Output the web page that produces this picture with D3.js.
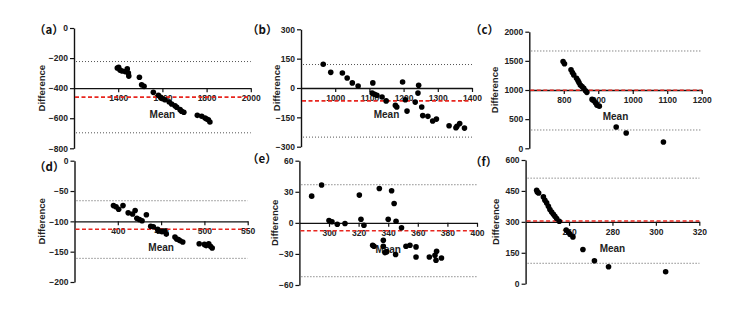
<!DOCTYPE html>
<html>
<head>
<meta charset="utf-8">
<script src="https://cdn.jsdelivr.net/npm/d3@7"></script>
<style>
  body { margin: 0; background: #fff; }
  svg text { font-family: "Liberation Sans", Arial, sans-serif; font-weight: bold; }
</style>
</head>
<body>
<div id="chart"></div>
<script>
// Bland-Altman panels (a)-(f): x = Mean, y = Difference
var meanA = [1396, 1402, 1408, 1418, 1432, 1441, 1446, 1448, 1496, 1506, 1517, 1559, 1582, 1592, 1601, 1612, 1631, 1642, 1657, 1665, 1680, 1687, 1697, 1758, 1778, 1793, 1800, 1808, 1815];
var diffA = [-266, -262, -280, -286, -290, -272, -300, -320, -328, -377, -388, -428, -448, -461, -470, -477, -492, -505, -517, -527, -543, -554, -560, -581, -587, -599, -605, -610, -625];

var meanB = [965, 987, 1021, 1035, 1050, 1067, 1110, 1108, 1115, 1122, 1137, 1149, 1176, 1180, 1197, 1205, 1210, 1234, 1244, 1242, 1253, 1256, 1271, 1285, 1296, 1333, 1353, 1356, 1364, 1378];
var diffB = [121, 80, 77, 51, 26, 10, 26, -26, -32, -37, -46, -66, -89, -97, 31, -60, -118, -72, 14, -26, -97, -141, -145, -169, -159, -193, -203, -196, -182, -205];

var meanC = [798, 802, 821, 825, 829, 837, 841, 844, 848, 853, 858, 863, 867, 882, 887, 892, 896, 903, 952, 981, 1089];
var diffC = [1490, 1450, 1346, 1300, 1259, 1202, 1161, 1127, 1086, 1058, 1029, 988, 960, 839, 816, 781, 741, 723, 366, 262, 107];

var meanD = [395, 398, 401, 406, 412, 417, 420, 422, 425, 428, 433, 438, 441, 446, 447, 451, 454, 456, 466, 468, 470, 472, 475, 494, 500, 502, 505, 507, 509];
var diffD = [-74, -76, -80, -74, -86, -88, -82, -95, -97, -99, -89, -108, -109, -113, -116, -117, -116, -121, -126, -129, -130, -132, -134, -137, -138, -140, -137, -141, -144];

var meanE = [288.3, 295, 300, 302, 305.6, 310.8, 320.5, 321.6, 323.6, 329.5, 330.4, 334, 336.7, 336.7, 337.8, 339, 340, 342.3, 344, 345.3, 345, 349, 352, 354.7, 358.8, 358.8, 367.8, 371.6, 372.7, 372.3, 376];
var diffE = [25.8, 36.5, 2.3, 1, -1.3, -0.6, 26.8, 3.5, -2.3, -21.6, -22.6, 33.2, -16.8, -22.6, -28.7, -28, 3.5, 31, 18.7, 1.6, -30.6, -4.8, -22.6, -21.6, -23.2, -32.9, -32.9, -31.3, -27.4, -36.1, -33.9];

var meanF = [245.1, 245.4, 246, 248.2, 248.9, 249.7, 250.5, 251.2, 252, 252.8, 253.5, 254.3, 255.5, 258.7, 259.8, 260.5, 261.8, 266.4, 271.7, 278.2, 304.5];
var diffF = [453, 445, 440, 421, 405, 392, 376, 360, 348, 337, 327, 316, 303, 260, 248, 239, 227, 166, 111, 82, 58];

// bias (red) and limits of agreement (dotted)
var bias = [-460, -66, 995, -113, -7.6, 304];
var upperLoA = [-223, 120, 1669, -66, 36.8, 512];
var lowerLoA = [-697, -251, 314, -161, -52, 99];

var labels = ["（a）", "（b）", "（c）", "（d）", "（e）", "（f）"];
var xTicks = [[1200, 1400, 1600, 1800, 2000], [900, 1000, 1100, 1200, 1300, 1400], [700, 800, 900, 1000, 1100, 1200],
              [350, 400, 450, 500, 550], [280, 300, 320, 340, 360, 380, 400], [240, 260, 280, 300, 320]];
var yTicks = [[-800, -600, -400, -200, 0], [-300, -150, 0, 150, 300], [0, 500, 1000, 1500, 2000],
              [-200, -150, -100, -50, 0], [-60, -30, 0, 30, 60], [0, 150, 300, 450, 600]];
var xCross = [-400, 0, 1000, -100, 0, 300];

var means = [meanA, meanB, meanC, meanD, meanE, meanF];
var diffs = [diffA, diffB, diffC, diffD, diffE, diffF];

// pixel boxes of each plot: [x left, x right, y bottom, y top]
var boxes = [[74, 250.8, 148.3, 28], [301, 472, 146.7, 29.3], [529.3, 701.7, 148.3, 31.7],
             [74.5, 247.7, 282, 160.7], [299.4, 477, 285, 160.7], [525.6, 699.3, 283.7, 160]];
var labelPos = [[34, 34], [247, 34], [470, 34], [34, 171], [247, 163], [470, 166]];
var titleX = [41.5, 276.5, 494.5, 41.5, 274, 495];

var w = 742, h = 310;
var fmt = d3.format("d");
var svg = d3.select("#chart").append("svg").attr("width", w).attr("height", h);

for (var i = 0; i < 6; i++) {
    var b = boxes[i];
    var xt = xTicks[i], yt = yTicks[i];
    var xScale = d3.scaleLinear().domain([xt[0], xt[xt.length - 1]]).range([b[0], b[1]]);
    var yScale = d3.scaleLinear().domain([yt[0], yt[yt.length - 1]]).range([b[2], b[3]]);
    var g = svg.append("g");

    // limits of agreement
    [upperLoA[i], lowerLoA[i]].forEach(function(v) {
        g.append("line")
            .attr("x1", b[0] + 2).attr("x2", b[1])
            .attr("y1", yScale(v)).attr("y2", yScale(v))
            .attr("stroke", "#555").attr("stroke-width", 1)
            .attr("stroke-dasharray", "1,2");
    });

    var yAxis = g.append("g")
        .attr("transform", "translate(" + b[0] + ",0)")
        .call(d3.axisLeft(yScale).tickValues(yt).tickFormat(fmt).tickSize(4).tickSizeOuter(0).tickPadding(2));
    var xAxis = g.append("g")
        .attr("transform", "translate(0," + yScale(xCross[i]) + ")")
        .call(d3.axisBottom(xScale).tickValues(xt.slice(1)).tickFormat(fmt).tickSize(4).tickSizeOuter(0).tickPadding(3));

    [yAxis, xAxis].forEach(function(ax) {
        ax.select(".domain").attr("stroke", "#111").attr("stroke-width", 1.4);
        ax.selectAll(".tick line").attr("stroke", "#111").attr("stroke-width", 1.2);
        ax.selectAll(".tick text").attr("fill", "#222").style("font-size", "8.5px");
    });

    // bias line
    g.append("line")
        .attr("x1", b[0] + 1).attr("x2", b[1])
        .attr("y1", yScale(bias[i])).attr("y2", yScale(bias[i]))
        .attr("stroke", "#e8261f").attr("stroke-width", 1.6)
        .attr("stroke-dasharray", "4,2.5");

    // axis titles
    g.append("text")
        .attr("x", (b[0] + b[1]) / 2)
        .attr("y", yScale(xCross[i]) + 30)
        .attr("text-anchor", "middle")
        .style("font-size", "10px")
        .attr("fill", "#222")
        .text("Mean");
    g.append("text")
        .attr("transform", "translate(" + (titleX[i] + 3.5) + "," + ((b[2] + b[3]) / 2) + ") rotate(-90)")
        .attr("text-anchor", "middle")
        .style("font-size", "9.5px")
        .attr("fill", "#222")
        .text("Difference");
    g.append("text")
        .attr("x", labelPos[i][0]).attr("y", labelPos[i][1])
        .style("font-size", "11.5px")
        .style("font-family", "'Noto Sans CJK SC', sans-serif")
        .attr("fill", "#111")
        .text(labels[i]);

    // points
    var pts = means[i].map(function(m, k) { return [m, diffs[i][k]]; });
    g.selectAll("circle")
        .data(pts)
        .enter()
        .append("circle")
        .attr("cx", function(d) { return xScale(d[0]); })
        .attr("cy", function(d) { return yScale(d[1]); })
        .attr("r", 2.8)
        .attr("fill", "#000");
}
</script>
</body>
</html>
